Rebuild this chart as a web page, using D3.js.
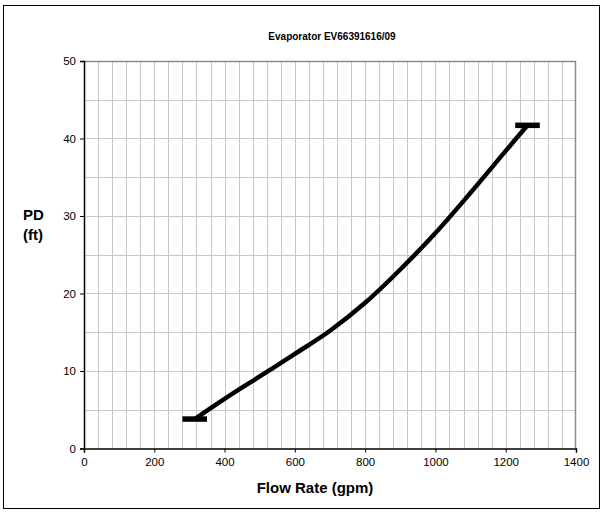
<!DOCTYPE html>
<html><head><meta charset="utf-8">
<script src="https://cdn.jsdelivr.net/npm/d3@7"></script>
<style>body{margin:0;background:#fff;} svg{display:block;font-family:"Liberation Sans",Arial,sans-serif;}</style>
</head><body>
<script>
const title = "Evaporator EV66391616/09";
const xLabel = "Flow Rate (gpm)";
const yLabel = ["PD", "(ft)"];
const flow = [315, 400, 500, 600, 700, 800, 900, 1000, 1100, 1200, 1262];
const pd = [3.8, 6.4, 9.3, 12.2, 15.2, 18.8, 23.1, 27.8, 33.0, 38.4, 41.7];
const xTicks = [0, 200, 400, 600, 800, 1000, 1200, 1400];
const yTicks = [0, 10, 20, 30, 40, 50];
const xDomain = [0, 1400], yDomain = [0, 50];
const xGridStep = 40, yGridStep = 5;
const markerHalf = 35;

const W = 603, H = 512;
const svg = d3.select("body").append("svg").attr("width", W).attr("height", H);
svg.append("rect").attr("x", 3.5).attr("y", 5.5).attr("width", 596).attr("height", 503)
  .attr("fill", "#fff").attr("stroke", "#000").attr("stroke-width", 1);

const L = 84, R = 576, T = 61, B = 448.5;
const x = d3.scaleLinear().domain(xDomain).range([L, R]);
const y = d3.scaleLinear().domain(yDomain).range([B, T]);

// grid
const g = svg.append("g");
g.selectAll("line.vx").data(d3.range(xDomain[0] + xGridStep, xDomain[1], xGridStep)).join("line")
  .attr("x1", d => Math.round(x(d)) + 0.5).attr("x2", d => Math.round(x(d)) + 0.5)
  .attr("y1", T).attr("y2", B).attr("stroke", "#c8c8c8").attr("stroke-width", 1);
g.selectAll("line.hy").data(d3.range(yDomain[0] + yGridStep, yDomain[1], yGridStep)).join("line")
  .attr("y1", d => Math.round(y(d)) + 0.5).attr("y2", d => Math.round(y(d)) + 0.5)
  .attr("x1", L).attr("x2", R).attr("stroke", "#c8c8c8").attr("stroke-width", 1);
// top/right border
svg.append("path").attr("d", `M${L},${T + 0.5}H${R - 0.5}V${B}`).attr("fill", "none")
  .attr("stroke", "#8c8c8c").attr("stroke-width", 1.5);

// axes
const fmt = d3.format("d");
const xAxis = svg.append("g").attr("transform", `translate(0,${B})`)
  .call(d3.axisBottom(x).tickValues(xTicks).tickFormat(fmt).tickSize(4).tickPadding(5));
const yAxis = svg.append("g").attr("transform", `translate(${L},0)`)
  .call(d3.axisLeft(y).tickValues(yTicks).tickFormat(fmt).tickSize(4).tickPadding(4));
[xAxis, yAxis].forEach(a => {
  a.select(".domain").attr("stroke", "#000").attr("stroke-width", 1.5);
  a.selectAll(".tick line").attr("stroke", "#000").attr("stroke-width", 1);
  a.selectAll(".tick text").attr("font-size", 11.5).attr("fill", "#000")
    .attr("font-family", "'Liberation Sans',Arial,sans-serif");
});

// curve
const pts = flow.map((f, i) => [f, pd[i]]);
svg.append("path").datum(pts)
  .attr("d", d3.line().x(d => x(d[0])).y(d => y(d[1])).curve(d3.curveCatmullRom))
  .attr("fill", "none").attr("stroke", "#000").attr("stroke-width", 4.5);
// end markers
const ends = [pts[0], pts[pts.length - 1]];
svg.selectAll("line.mk").data(ends).join("line")
  .attr("x1", d => x(d[0] - markerHalf)).attr("x2", d => x(d[0] + markerHalf))
  .attr("y1", d => y(d[1])).attr("y2", d => y(d[1]))
  .attr("stroke", "#000").attr("stroke-width", 5.5);

// titles
svg.append("text").attr("x", 332).attr("y", 40).attr("text-anchor", "middle")
  .attr("font-size", 10).attr("font-weight", "bold").text(title);
svg.append("text").attr("x", 315).attr("y", 493).attr("text-anchor", "middle")
  .attr("font-size", 15).attr("font-weight", "bold").text(xLabel);
svg.append("text").attr("x", 23).attr("y", 220).attr("font-size", 15).attr("font-weight", "bold").text(yLabel[0]);
svg.append("text").attr("x", 23).attr("y", 240).attr("font-size", 15).attr("font-weight", "bold").text(yLabel[1]);
</script>
</body></html>
